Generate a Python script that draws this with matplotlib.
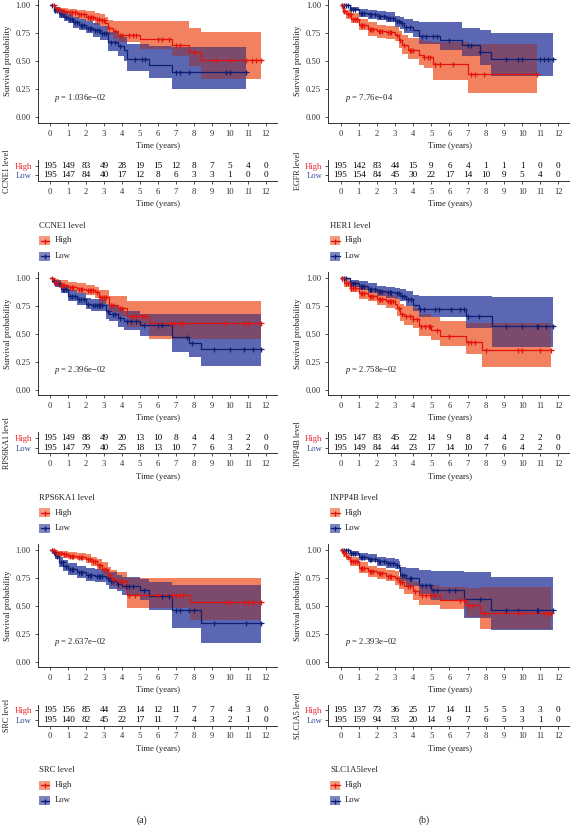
import numpy as np
import matplotlib
matplotlib.use('Agg')
import matplotlib.pyplot as plt
from matplotlib.patches import Rectangle
from matplotlib.lines import Line2D

# ---------------- data ----------------
years = list(range(13))

# CCNE1
ccne1_hi_t = [0, 0.3, 0.6, 1.0, 1.5, 2.0, 2.5, 2.8, 3.05, 3.2, 3.5, 3.8, 5.0, 6.8, 7.7, 8.4]
ccne1_hi_s = [1.0, 0.97, 0.95, 0.94, 0.92, 0.90, 0.88, 0.87, 0.84, 0.80, 0.77, 0.74, 0.70, 0.65, 0.58, 0.51]
ccne1_hi_lo = [1.0, 0.95, 0.92, 0.90, 0.88, 0.86, 0.83, 0.82, 0.78, 0.74, 0.70, 0.67, 0.61, 0.55, 0.46, 0.34]
ccne1_hi_up = [1.0, 0.99, 0.98, 0.97, 0.96, 0.95, 0.93, 0.92, 0.90, 0.87, 0.86, 0.86, 0.86, 0.86, 0.80, 0.76]
ccne1_hi_end = 11.7
ccne1_hi_cens = [0.2, 0.4, 0.5, 0.7, 0.8, 1.1, 1.2, 1.4, 1.6, 1.7, 1.9, 2.1, 2.2, 2.3, 2.4, 2.6, 2.7, 2.9, 3.0,
                 3.3, 3.6, 3.9, 4.0, 4.4, 4.6, 4.8, 6.0, 6.2, 6.6, 7.0, 7.2, 8.0, 9.2, 10.0, 10.9, 11.2, 11.45, 11.7]
ccne1_lo_t = [0, 0.2, 0.5, 0.8, 1.0, 1.3, 1.6, 2.0, 2.4, 2.8, 3.2, 3.8, 4.1, 4.3, 5.5, 6.8]
ccne1_lo_s = [1.0, 0.96, 0.92, 0.90, 0.88, 0.85, 0.83, 0.80, 0.78, 0.75, 0.67, 0.64, 0.60, 0.52, 0.47, 0.405]
ccne1_lo_lo = [1.0, 0.93, 0.89, 0.86, 0.84, 0.80, 0.78, 0.75, 0.72, 0.69, 0.59, 0.55, 0.50, 0.41, 0.35, 0.25]
ccne1_lo_up = [1.0, 0.99, 0.96, 0.94, 0.92, 0.90, 0.88, 0.86, 0.84, 0.82, 0.76, 0.74, 0.72, 0.66, 0.64, 0.63]
ccne1_lo_end = 10.9
ccne1_lo_cens = [0.1, 0.3, 0.4, 0.6, 0.7, 0.9, 1.1, 1.2, 1.4, 1.5, 1.7, 1.8, 1.9, 2.1, 2.2, 2.3, 2.5, 2.6, 2.7,
                 2.9, 3.0, 3.1, 3.4, 3.6, 3.9, 4.7, 5.1, 5.3, 7.0, 7.2, 7.7, 9.8, 10.0, 10.9]
ccne1_risk_hi = [195, 149, 83, 49, 28, 19, 15, 12, 8, 7, 5, 4, 0]
ccne1_risk_lo = [195, 147, 84, 40, 17, 12, 8, 6, 3, 3, 1, 0, 0]

# EGFR / HER1
egfr_hi_t = [0, 0.15, 0.3, 0.6, 1.0, 1.5, 2.0, 2.5, 3.0, 3.2, 3.4, 3.7, 4.3, 4.6, 5.1, 7.0]
egfr_hi_s = [1.0, 0.95, 0.92, 0.88, 0.83, 0.79, 0.77, 0.76, 0.74, 0.69, 0.65, 0.60, 0.56, 0.54, 0.48, 0.385]
egfr_hi_lo = [1.0, 0.92, 0.88, 0.84, 0.78, 0.73, 0.71, 0.70, 0.68, 0.62, 0.57, 0.52, 0.47, 0.44, 0.33, 0.22]
egfr_hi_up = [1.0, 0.98, 0.96, 0.93, 0.88, 0.85, 0.83, 0.82, 0.81, 0.77, 0.74, 0.71, 0.69, 0.68, 0.67, 0.66]
egfr_hi_end = 10.8
egfr_hi_cens = [0.1, 0.2, 0.4, 0.5, 0.7, 0.8, 0.9, 1.1, 1.2, 1.3, 1.6, 1.7, 1.8, 2.1, 2.2, 2.3, 2.6, 2.7, 2.8,
                3.1, 3.3, 3.5, 3.8, 3.9, 4.0, 4.6, 4.8, 4.95, 5.2, 5.5, 6.2, 7.2, 7.4, 7.9, 10.8]
egfr_lo_t = [0, 0.5, 1.0, 1.5, 2.0, 2.5, 3.0, 3.3, 3.5, 4.0, 4.3, 5.5, 6.7, 7.7, 8.3]
egfr_lo_s = [1.0, 0.97, 0.93, 0.92, 0.91, 0.89, 0.86, 0.84, 0.81, 0.78, 0.73, 0.69, 0.65, 0.585, 0.525]
egfr_lo_lo = [1.0, 0.95, 0.90, 0.88, 0.87, 0.85, 0.81, 0.79, 0.75, 0.72, 0.66, 0.60, 0.55, 0.47, 0.37]
egfr_lo_up = [1.0, 0.99, 0.97, 0.96, 0.95, 0.94, 0.91, 0.90, 0.88, 0.86, 0.85, 0.85, 0.80, 0.78, 0.75]
egfr_lo_end = 11.7
egfr_lo_cens = [0.1, 0.2, 0.3, 0.4, 0.6, 0.7, 0.8, 1.1, 1.2, 1.3, 1.6, 1.7, 1.9, 2.1, 2.2, 2.4, 2.6, 2.7, 2.9,
                3.1, 3.2, 3.4, 3.6, 3.8, 4.5, 4.7, 5.1, 5.3, 6.0, 7.0, 7.2, 7.7, 9.1, 9.8, 10.0, 11.0, 11.2, 11.45, 11.7]
egfr_risk_hi = [195, 142, 83, 44, 15, 9, 6, 4, 1, 1, 1, 0, 0]
egfr_risk_lo = [195, 154, 84, 45, 30, 22, 17, 14, 10, 9, 5, 4, 0]

# RPS6KA1
rps_hi_t = [0, 0.2, 0.5, 1.0, 1.5, 2.0, 2.5, 2.7, 3.3, 3.8, 4.3, 5.5]
rps_hi_s = [1.0, 0.96, 0.94, 0.92, 0.90, 0.89, 0.87, 0.83, 0.76, 0.73, 0.66, 0.595]
rps_hi_lo = [1.0, 0.93, 0.91, 0.88, 0.86, 0.85, 0.82, 0.77, 0.69, 0.66, 0.56, 0.45]
rps_hi_up = [1.0, 0.99, 0.98, 0.96, 0.95, 0.94, 0.92, 0.89, 0.84, 0.84, 0.79, 0.79]
rps_hi_end = 11.7
rps_hi_cens = [0.1, 0.3, 0.4, 0.6, 0.7, 0.8, 1.1, 1.2, 1.3, 1.6, 1.7, 1.8, 2.1, 2.2, 2.3, 2.4, 2.6, 2.8, 2.9,
               3.0, 3.1, 3.4, 3.5, 3.9, 4.0, 4.6, 4.8, 5.1, 5.3, 6.7, 6.9, 7.2, 7.4, 9.7, 10.8, 11.0, 11.7]
rps_lo_t = [0, 0.1, 0.3, 0.6, 1.0, 1.5, 2.0, 2.3, 3.1, 3.3, 3.8, 4.1, 5.0, 6.8, 7.7, 8.4]
rps_lo_s = [1.0, 0.97, 0.95, 0.90, 0.84, 0.81, 0.77, 0.76, 0.70, 0.68, 0.64, 0.61, 0.575, 0.47, 0.42, 0.365]
rps_lo_lo = [1.0, 0.95, 0.92, 0.86, 0.79, 0.76, 0.72, 0.70, 0.63, 0.61, 0.56, 0.53, 0.48, 0.34, 0.29, 0.21]
rps_lo_up = [1.0, 0.99, 0.98, 0.94, 0.89, 0.86, 0.82, 0.81, 0.77, 0.75, 0.72, 0.70, 0.68, 0.68, 0.68, 0.68]
rps_lo_end = 11.7
rps_lo_cens = [0.2, 0.4, 0.5, 0.7, 0.8, 0.9, 1.1, 1.2, 1.4, 1.6, 1.7, 1.9, 2.1, 2.4, 2.5, 2.6, 2.7, 2.8, 2.9,
               3.2, 3.5, 3.6, 3.9, 4.3, 4.5, 4.8, 5.2, 6.0, 6.2, 7.6, 7.9, 9.1, 10.0, 10.8, 11.3, 11.7]
rps_risk_hi = [195, 149, 88, 49, 20, 13, 10, 8, 4, 4, 3, 2, 0]
rps_risk_lo = [195, 147, 79, 40, 25, 18, 13, 10, 7, 6, 3, 2, 0]

# INPP4B
inpp_hi_t = [0, 0.2, 0.5, 1.0, 1.5, 2.0, 2.5, 3.0, 3.1, 3.3, 3.5, 4.0, 4.3, 5.0, 5.5, 6.9, 7.8]
inpp_hi_s = [1.0, 0.95, 0.91, 0.86, 0.84, 0.81, 0.79, 0.77, 0.73, 0.68, 0.66, 0.63, 0.57, 0.53, 0.48, 0.43, 0.355]
inpp_hi_lo = [1.0, 0.92, 0.87, 0.81, 0.79, 0.76, 0.73, 0.71, 0.66, 0.61, 0.58, 0.55, 0.48, 0.44, 0.39, 0.32, 0.20]
inpp_hi_up = [1.0, 0.99, 0.96, 0.92, 0.90, 0.87, 0.85, 0.84, 0.81, 0.77, 0.75, 0.73, 0.68, 0.65, 0.61, 0.60, 0.60]
inpp_hi_end = 11.6
inpp_hi_cens = [0.1, 0.3, 0.4, 0.6, 0.7, 0.8, 1.1, 1.2, 1.3, 1.6, 1.7, 1.8, 2.1, 2.2, 2.3, 2.6, 2.7, 2.8, 2.9,
                3.2, 3.4, 3.6, 3.8, 4.0, 4.2, 4.45, 4.65, 4.85, 4.95, 5.3, 6.0, 7.0, 7.2, 7.4, 8.0, 9.8, 10.0, 11.0, 11.6]
inpp_lo_t = [0, 0.5, 1.0, 1.5, 2.0, 2.5, 3.0, 3.3, 3.6, 4.0, 4.3, 6.9, 8.35]
inpp_lo_s = [1.0, 0.95, 0.93, 0.90, 0.88, 0.87, 0.86, 0.84, 0.81, 0.76, 0.72, 0.655, 0.565]
inpp_lo_lo = [1.0, 0.92, 0.89, 0.86, 0.84, 0.82, 0.81, 0.79, 0.75, 0.70, 0.65, 0.55, 0.38]
inpp_lo_up = [1.0, 0.98, 0.97, 0.95, 0.93, 0.92, 0.91, 0.90, 0.88, 0.85, 0.84, 0.84, 0.83]
inpp_lo_end = 11.7
inpp_lo_cens = [0.1, 0.2, 0.3, 0.6, 0.7, 0.8, 1.1, 1.2, 1.3, 1.6, 1.7, 1.9, 2.1, 2.2, 2.3, 2.6, 2.7, 2.8, 3.1,
                3.2, 3.4, 3.5, 3.7, 3.9, 4.4, 4.6, 5.2, 5.4, 6.1, 6.6, 6.8, 7.0, 7.6, 9.1, 10.0, 10.8, 10.9, 11.3, 11.7]
inpp_risk_hi = [195, 147, 83, 45, 22, 14, 9, 8, 4, 4, 2, 2, 0]
inpp_risk_lo = [195, 149, 84, 44, 23, 17, 14, 10, 7, 6, 4, 2, 0]

# SRC
src_hi_t = [0, 0.3, 0.7, 1.0, 1.5, 2.0, 2.3, 2.6, 2.9, 3.2, 3.4, 3.7, 4.3, 7.8]
src_hi_s = [1.0, 0.97, 0.96, 0.95, 0.94, 0.92, 0.90, 0.87, 0.83, 0.78, 0.74, 0.72, 0.60, 0.535]
src_hi_lo = [1.0, 0.95, 0.93, 0.92, 0.91, 0.88, 0.86, 0.82, 0.78, 0.72, 0.68, 0.65, 0.48, 0.37]
src_hi_up = [1.0, 0.99, 0.99, 0.98, 0.97, 0.96, 0.94, 0.92, 0.89, 0.85, 0.82, 0.80, 0.75, 0.75]
src_hi_end = 11.7
src_hi_cens = [0.1, 0.2, 0.4, 0.5, 0.6, 0.8, 0.9, 1.1, 1.2, 1.3, 1.6, 1.7, 1.8, 2.1, 2.2, 2.4, 2.5, 2.7, 2.8,
               3.0, 3.1, 3.3, 3.5, 3.9, 4.0, 4.4, 4.7, 6.0, 6.8, 7.0, 7.2, 7.4, 9.8, 10.0, 10.8, 11.0, 11.3, 11.7]
src_lo_t = [0, 0.15, 0.3, 0.5, 0.75, 1.0, 1.5, 2.0, 2.5, 3.1, 3.3, 3.7, 4.0, 5.0, 5.5, 6.8, 8.4]
src_lo_s = [1.0, 0.98, 0.95, 0.89, 0.86, 0.83, 0.80, 0.78, 0.77, 0.75, 0.72, 0.70, 0.68, 0.64, 0.585, 0.46, 0.345]
src_lo_lo = [1.0, 0.96, 0.92, 0.85, 0.81, 0.78, 0.75, 0.72, 0.71, 0.69, 0.65, 0.63, 0.60, 0.55, 0.46, 0.30, 0.17]
src_lo_up = [1.0, 1.0, 0.98, 0.94, 0.91, 0.88, 0.86, 0.84, 0.83, 0.82, 0.80, 0.78, 0.76, 0.74, 0.71, 0.69, 0.69]
src_lo_end = 11.7
src_lo_cens = [0.1, 0.2, 0.4, 0.6, 0.7, 0.9, 1.1, 1.2, 1.3, 1.6, 1.7, 1.8, 2.1, 2.2, 2.3, 2.6, 2.7, 2.8, 2.9,
               3.2, 3.4, 3.5, 3.8, 4.2, 4.4, 4.6, 5.2, 6.2, 6.6, 7.0, 7.2, 7.7, 8.0, 9.1, 10.9, 11.7]
src_risk_hi = [195, 156, 85, 44, 23, 14, 12, 11, 7, 7, 4, 3, 0]
src_risk_lo = [195, 140, 82, 45, 22, 17, 11, 7, 4, 3, 2, 1, 0]

# SLC1A5
slc_hi_t = [0, 0.15, 0.3, 0.5, 1.0, 1.5, 2.0, 2.5, 3.0, 3.2, 3.5, 4.0, 4.3, 5.5, 6.9, 7.7]
slc_hi_s = [1.0, 0.97, 0.94, 0.90, 0.84, 0.81, 0.79, 0.77, 0.75, 0.71, 0.68, 0.63, 0.60, 0.555, 0.51, 0.44]
slc_hi_lo = [1.0, 0.94, 0.91, 0.86, 0.79, 0.76, 0.74, 0.72, 0.69, 0.65, 0.61, 0.55, 0.51, 0.47, 0.40, 0.29]
slc_hi_up = [1.0, 0.99, 0.97, 0.94, 0.89, 0.86, 0.84, 0.82, 0.81, 0.77, 0.75, 0.71, 0.69, 0.67, 0.66, 0.665]
slc_hi_end = 11.6
slc_hi_cens = [0.1, 0.2, 0.4, 0.6, 0.7, 0.8, 0.9, 1.1, 1.2, 1.3, 1.6, 1.7, 1.8, 2.1, 2.2, 2.3, 2.6, 2.7, 2.8,
               3.1, 3.3, 3.4, 3.7, 3.8, 4.1, 4.5, 4.7, 4.9, 5.2, 6.6, 6.8, 7.1, 7.3, 7.9, 9.8, 11.2, 11.4, 11.6]
slc_lo_t = [0, 0.5, 1.0, 1.5, 2.0, 2.5, 3.0, 3.2, 3.3, 3.6, 4.3, 5.0, 6.8, 8.3]
slc_lo_s = [1.0, 0.97, 0.94, 0.92, 0.90, 0.88, 0.87, 0.85, 0.78, 0.75, 0.69, 0.64, 0.56, 0.465]
slc_lo_lo = [1.0, 0.95, 0.91, 0.89, 0.86, 0.84, 0.83, 0.80, 0.72, 0.68, 0.61, 0.55, 0.39, 0.28]
slc_lo_up = [1.0, 0.99, 0.97, 0.96, 0.94, 0.93, 0.92, 0.90, 0.85, 0.84, 0.82, 0.81, 0.80, 0.76]
slc_lo_end = 11.7
slc_lo_cens = [0.1, 0.2, 0.3, 0.4, 0.6, 0.7, 0.8, 1.1, 1.2, 1.3, 1.6, 1.7, 1.9, 2.1, 2.2, 2.4, 2.6, 2.7, 2.9,
               3.1, 3.4, 3.5, 3.8, 3.9, 4.5, 4.7, 4.9, 5.1, 5.3, 6.0, 6.3, 7.7, 9.1, 9.8, 10.8, 10.9, 11.7]
slc_risk_hi = [195, 137, 73, 36, 25, 17, 14, 11, 5, 5, 3, 3, 0]
slc_risk_lo = [195, 159, 94, 53, 20, 14, 9, 7, 6, 5, 3, 1, 0]

risk_labels = ['CCNE1 level', 'EGFR level', 'RPS6KA1 level', 'INPP4B level', 'SRC level', 'SLC1A5 level']
legend_titles = ['CCNE1 level', 'HER1 level', 'RPS6KA1 level', 'INPP4B level', 'SRC level', 'SLC1A5level']
p_values = ['1.036e\u221202', '7.76e\u221204', '2.396e\u221202', '2.758e\u221202', '2.637e\u221202', '2.393e\u221202']
panel_letters = ['(a)', '(b)']

# ---------------- style ----------------
plt.rcParams['font.family'] = ['Liberation Serif', 'DejaVu Serif']
plt.rcParams['mathtext.fontset'] = 'custom'
plt.rcParams['mathtext.it'] = 'Liberation Serif:italic'
plt.rcParams['mathtext.rm'] = 'Liberation Serif'

HI_LINE = '#E3120B'
LO_LINE = '#0D1F73'
HI_FILL = '#F2815F'
LO_FILL = '#5B67B2'
OV_FILL = '#7B4A6C'
HI_TXT = '#E8232A'
LO_TXT = '#3A4A9C'
AX_COL = '#333333'
TXT = '#222222'
FS = 6.2

W, H = 570, 826
fig = plt.figure(figsize=(W / 100, H / 100), dpi=100)


def px_axes(l, t, r, b):
    return fig.add_axes([l / W, 1 - b / H, (r - l) / W, (b - t) / H])


def fx(x):
    return x / W


def fy(y):
    return 1 - y / H


XLIM = (-0.69, 12.61)


def style_axes(ax):
    for s in ['top', 'right']:
        ax.spines[s].set_visible(False)
    for s in ['left', 'bottom']:
        ax.spines[s].set_linewidth(0.7)
        ax.spines[s].set_color(AX_COL)
    ax.tick_params(length=2.5, width=0.6, color=AX_COL, labelsize=FS, pad=2.5, labelcolor='#333333')


def ext(t, v, end):
    return np.append(np.asarray(t, float), end), np.append(np.asarray(v, float), v[-1])


def step_eval(t, v, g):
    idx = np.searchsorted(np.asarray(t, float), g, side='right') - 1
    return np.asarray(v, float)[idx]


def draw_km(ax, hi, lo):
    (ht, hs, hl, hu, he, hc) = hi
    (lt, ls, ll, lu, le, lc) = lo
    x, y1 = ext(ht, hl, he)
    _, y2 = ext(ht, hu, he)
    ax.fill_between(x, y1, y2, step='post', color=HI_FILL, lw=0, zorder=1)
    x, y1 = ext(lt, ll, le)
    _, y2 = ext(lt, lu, le)
    ax.fill_between(x, y1, y2, step='post', color=LO_FILL, lw=0, zorder=1.1)
    emin = min(he, le)
    g = np.union1d(ht, lt)
    g = np.append(g[g < emin], emin)
    a = np.maximum(step_eval(ht, hl, g), step_eval(lt, ll, g))
    b = np.minimum(step_eval(ht, hu, g), step_eval(lt, lu, g))
    b = np.maximum(a, b)
    ax.fill_between(g, a, b, step='post', color=OV_FILL, lw=0, zorder=1.2)
    for (t, s, e, c, col) in [(lt, ls, le, lc, LO_LINE), (ht, hs, he, hc, HI_LINE)]:
        x, y = ext(t, s, e)
        ax.step(x, y, where='post', color=col, lw=0.9, zorder=3)
        cy = step_eval(t, s, np.asarray(c, float))
        ax.plot(c, cy, ls='none', marker='+', ms=3.6, mew=0.9, color=col, zorder=4)


panels = [
    ((ccne1_hi_t, ccne1_hi_s, ccne1_hi_lo, ccne1_hi_up, ccne1_hi_end, ccne1_hi_cens),
     (ccne1_lo_t, ccne1_lo_s, ccne1_lo_lo, ccne1_lo_up, ccne1_lo_end, ccne1_lo_cens),
     ccne1_risk_hi, ccne1_risk_lo),
    ((egfr_hi_t, egfr_hi_s, egfr_hi_lo, egfr_hi_up, egfr_hi_end, egfr_hi_cens),
     (egfr_lo_t, egfr_lo_s, egfr_lo_lo, egfr_lo_up, egfr_lo_end, egfr_lo_cens),
     egfr_risk_hi, egfr_risk_lo),
    ((rps_hi_t, rps_hi_s, rps_hi_lo, rps_hi_up, rps_hi_end, rps_hi_cens),
     (rps_lo_t, rps_lo_s, rps_lo_lo, rps_lo_up, rps_lo_end, rps_lo_cens),
     rps_risk_hi, rps_risk_lo),
    ((inpp_hi_t, inpp_hi_s, inpp_hi_lo, inpp_hi_up, inpp_hi_end, inpp_hi_cens),
     (inpp_lo_t, inpp_lo_s, inpp_lo_lo, inpp_lo_up, inpp_lo_end, inpp_lo_cens),
     inpp_risk_hi, inpp_risk_lo),
    ((src_hi_t, src_hi_s, src_hi_lo, src_hi_up, src_hi_end, src_hi_cens),
     (src_lo_t, src_lo_s, src_lo_lo, src_lo_up, src_lo_end, src_lo_cens),
     src_risk_hi, src_risk_lo),
    ((slc_hi_t, slc_hi_s, slc_hi_lo, slc_hi_up, slc_hi_end, slc_hi_cens),
     (slc_lo_t, slc_lo_s, slc_lo_lo, slc_lo_up, slc_lo_end, slc_lo_cens),
     slc_risk_hi, slc_risk_lo),
]

col_lr = [(37.5, 277.0), (328.0, 569.5)]
col_ylab_x = [8.0, 298.5]
col_rlab_x = [7.0, 297.5]
col_leg_x = [39.5, 330.0]
row_off = [0.0, 272.3, 544.5]

for i, (hi, lo, rhi, rlo) in enumerate(panels):
    r, c = divmod(i, 2)
    L, R = col_lr[c]
    o = row_off[r]
    # KM plot
    ax = px_axes(L, -0.1 + o, R, 122.9 + o)
    style_axes(ax)
    draw_km(ax, hi, lo)
    ax.set_xlim(*XLIM)
    ax.set_ylim(-0.05, 1.05)
    ax.set_xticks(years)
    ax.set_yticks([0, 0.25, 0.5, 0.75, 1.0])
    ax.set_yticklabels(['0.00', '0.25', '0.50', '0.75', '1.00'])
    ax.text(0.22, 0.175, r'$\it{p}$ = ' + p_values[i], fontsize=FS, ha='left', va='center', color=TXT)
    fig.text(fx((L + R) / 2 + 1), fy(145.5 + o), 'Time (years)', fontsize=FS, ha='center', va='center',
             color=TXT)
    fig.text(fx(col_ylab_x[c]), fy(61 + o), 'Survival probability', fontsize=FS, rotation=90,
             ha='center', va='center', color=TXT)
    # risk table
    rax = px_axes(L, 160 + o, R, 181 + o)
    style_axes(rax)
    rax.set_xlim(*XLIM)
    rax.set_ylim(0.4, 2.6)
    rax.set_xticks(years)
    rax.set_yticks([2, 1])
    rax.set_yticklabels(['High', 'Low'], fontsize=FS)
    rax.tick_params(axis='y', pad=1.5)
    for lab, col in zip(rax.get_yticklabels(), [HI_TXT, LO_TXT]):
        lab.set_color(col)
    for x, v in zip(years, rhi):
        rax.text(x, 2, str(v), ha='center', va='center', fontsize=FS + 0.4, color='#000000')
    for x, v in zip(years, rlo):
        rax.text(x, 1, str(v), ha='center', va='center', fontsize=FS + 0.4, color='#000000')
    fig.text(fx((L + R) / 2 + 1), fy(204.5 + o), 'Time (years)', fontsize=FS, ha='center', va='center',
             color=TXT)
    fig.text(fx(col_rlab_x[c]), fy(171 + o), risk_labels[i], fontsize=FS - 0.3, rotation=90,
             ha='center', va='center', color=TXT)
    # legend
    lx = col_leg_x[c]
    fig.text(fx(lx), fy(226 + o), legend_titles[i], fontsize=FS, ha='left', va='center', color=TXT)
    for k, (name, fcol, lcol) in enumerate([('High', HI_FILL, HI_LINE), ('Low', LO_FILL, LO_LINE)]):
        yc = 240.5 + 15.5 * k + o
        fig.patches.append(Rectangle((fx(lx), fy(yc + 4.5)), 10.5 / W, 9 / H, transform=fig.transFigure,
                                     facecolor=fcol, edgecolor='none', alpha=0.8))
        fig.lines.append(Line2D([fx(lx + 1), fx(lx + 9.5)], [fy(yc), fy(yc)], transform=fig.transFigure,
                                color=lcol, lw=0.9))
        fig.lines.append(Line2D([fx(lx + 5.25)], [fy(yc)], transform=fig.transFigure, color=lcol,
                                marker='+', ms=3.6, mew=0.9, ls='none'))
        fig.text(fx(lx + 15), fy(yc), name, fontsize=FS, ha='left', va='center', color=TXT)

fig.text(fx(142), fy(820), panel_letters[0], fontsize=7, ha='center', va='center', color=TXT)
fig.text(fx(424), fy(820), panel_letters[1], fontsize=7, ha='center', va='center', color=TXT)

fig.savefig('out.png', dpi=100, facecolor='white')
